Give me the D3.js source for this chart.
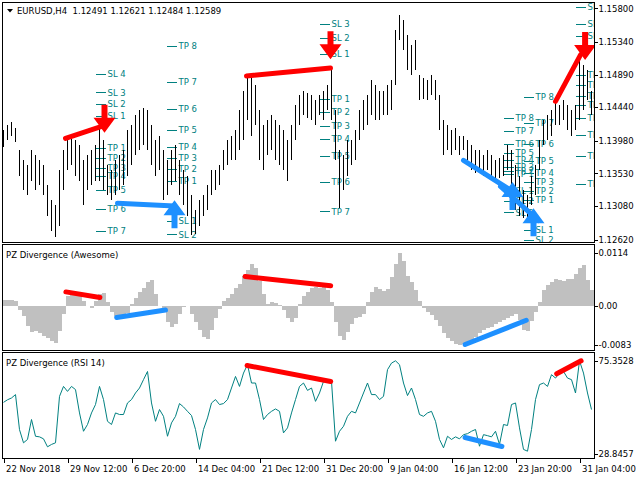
<!DOCTYPE html>
<html>
<head>
<meta charset="utf-8">
<script src="https://cdn.jsdelivr.net/npm/d3@7"></script>
<style>
  body { margin: 0; background: #fff; }
  text { font-family: 'DejaVu Sans', sans-serif; font-size: 8.5px; }
</style>
</head>
<body>
<svg id="chart"></svg>
<script>
// values (one entry per drawn bar)
const symbolTitle = 'EURUSD,H4';
const lastQuote = ['1.12491', '1.12621', '1.12484', '1.12589'];
const aoTitle = 'PZ Divergence (Awesome)';
const rsiTitle = 'PZ Divergence (RSI 14)';

const timeLabels = ['22 Nov 2018', '29 Nov 12:00', '6 Dec 20:00', '14 Dec 04:00', '21 Dec 12:00',
  '31 Dec 20:00', '9 Jan 04:00', '16 Jan 12:00', '23 Jan 20:00', '31 Jan 04:00'];
const timeTickBars = [0, 16, 32, 48, 64, 80, 96, 112, 128, 144];

const priceTicks = [1.15800, 1.15340, 1.14890, 1.14440, 1.13980, 1.13530, 1.13080, 1.12620];
const aoTicks = [0.0114, 0, -0.0083];
const rsiTicks = [75.3528, 28.8457];

const barHigh = [
  1.1412, 1.1419, 1.1423, 1.1415, 1.1385, 1.1371, 1.1364, 1.1385, 1.1378, 1.1371,
  1.1364, 1.1337, 1.1316, 1.1309, 1.1357, 1.1385, 1.1401, 1.1405, 1.1399, 1.1392,
  1.1371, 1.1378, 1.1385, 1.1392, 1.1419, 1.1399, 1.1364, 1.1357, 1.1371, 1.1378,
  1.1385, 1.1412, 1.1419, 1.1433, 1.1440, 1.1443, 1.1440, 1.1419, 1.1399, 1.1405,
  1.1385, 1.1371, 1.1385, 1.1392, 1.1371, 1.1357, 1.1350, 1.1323, 1.1302, 1.1316,
  1.1323, 1.1337, 1.1357, 1.1357, 1.1364, 1.1385, 1.1399, 1.1405, 1.1412, 1.1440,
  1.1467, 1.1488, 1.1484, 1.1474, 1.1440, 1.1419, 1.1426, 1.1433, 1.1426, 1.1419,
  1.1412, 1.1399, 1.1419, 1.1447, 1.1461, 1.1467, 1.1464, 1.1461, 1.1454, 1.1461,
  1.1467, 1.1474, 1.1498, 1.1440, 1.1385, 1.1378, 1.1399, 1.1399, 1.1412, 1.1440,
  1.1454, 1.1461, 1.1481, 1.1474, 1.1467, 1.1467, 1.1474, 1.1481, 1.1550, 1.1571,
  1.1564, 1.1543, 1.1530, 1.1536, 1.1488, 1.1484, 1.1481, 1.1488, 1.1481, 1.1461,
  1.1426, 1.1419, 1.1412, 1.1415, 1.1405, 1.1405, 1.1399, 1.1392, 1.1385, 1.1385,
  1.1378, 1.1385, 1.1378, 1.1371, 1.1374, 1.1378, 1.1392, 1.1385, 1.1364, 1.1350,
  1.1330, 1.1323, 1.1350, 1.1364, 1.1399, 1.1426, 1.1433, 1.1440, 1.1454, 1.1447,
  1.1454, 1.1447, 1.1440, 1.1447, 1.1512, 1.1502, 1.1495, 1.1467
];
const barLow = [
  1.1389, 1.1399, 1.1405, 1.1396, 1.1350, 1.1330, 1.1323, 1.1343, 1.1330, 1.1337,
  1.1323, 1.1295, 1.1274, 1.1265, 1.1281, 1.1330, 1.1357, 1.1364, 1.1350, 1.1343,
  1.1309, 1.1330, 1.1337, 1.1343, 1.1343, 1.1330, 1.1323, 1.1316, 1.1323, 1.1330,
  1.1337, 1.1350, 1.1364, 1.1378, 1.1385, 1.1392, 1.1385, 1.1364, 1.1350, 1.1357,
  1.1316, 1.1323, 1.1337, 1.1343, 1.1323, 1.1309, 1.1295, 1.1268, 1.1270, 1.1281,
  1.1295, 1.1302, 1.1323, 1.1330, 1.1337, 1.1357, 1.1364, 1.1371, 1.1371, 1.1385,
  1.1399, 1.1426, 1.1405, 1.1419, 1.1371, 1.1357, 1.1378, 1.1385, 1.1371, 1.1364,
  1.1357, 1.1343, 1.1371, 1.1399, 1.1419, 1.1433, 1.1429, 1.1426, 1.1419, 1.1433,
  1.1426, 1.1440, 1.1426, 1.1371, 1.1306, 1.1330, 1.1350, 1.1364, 1.1371, 1.1399,
  1.1412, 1.1419, 1.1433, 1.1426, 1.1426, 1.1433, 1.1433, 1.1440, 1.1474, 1.1536,
  1.1523, 1.1495, 1.1488, 1.1495, 1.1454, 1.1456, 1.1454, 1.1461, 1.1454, 1.1412,
  1.1378, 1.1385, 1.1378, 1.1385, 1.1378, 1.1385, 1.1371, 1.1357, 1.1354, 1.1357,
  1.1350, 1.1357, 1.1350, 1.1343, 1.1346, 1.1350, 1.1357, 1.1337, 1.1302, 1.1295,
  1.1291, 1.1288, 1.1309, 1.1323, 1.1357, 1.1392, 1.1399, 1.1405, 1.1419, 1.1419,
  1.1426, 1.1412, 1.1405, 1.1412, 1.1426, 1.1440, 1.1454, 1.1433
];

const aoValues = [
  0.0013, 0.0013, 0.0013, 0.0011, -0.0009, -0.0022, -0.0043, -0.0056, -0.0054, -0.0058,
  -0.0065, -0.0069, -0.0076, -0.0080, -0.0054, -0.0017, 0.0022, 0.0028, 0.0030, 0.0026,
  0.0011, 0.0000, -0.0004, 0.0011, 0.0026, 0.0028, 0.0009, -0.0013, -0.0022, -0.0024,
  -0.0022, -0.0015, 0.0004, 0.0017, 0.0030, 0.0039, 0.0052, 0.0056, 0.0026, 0.0000,
  -0.0013, -0.0035, -0.0045, -0.0039, -0.0017, -0.0002, 0.0000, -0.0017, -0.0035, -0.0052,
  -0.0067, -0.0071, -0.0052, -0.0026, -0.0006, 0.0011, 0.0017, 0.0026, 0.0039, 0.0048,
  0.0065, 0.0078, 0.0091, 0.0082, 0.0054, 0.0026, 0.0004, 0.0009, 0.0006, 0.0002,
  -0.0009, -0.0026, -0.0035, -0.0026, 0.0004, 0.0022, 0.0030, 0.0039, 0.0041, 0.0039,
  0.0041, 0.0035, 0.0009, -0.0035, -0.0065, -0.0074, -0.0056, -0.0039, -0.0026, -0.0024,
  -0.0017, 0.0009, 0.0030, 0.0041, 0.0037, 0.0032, 0.0037, 0.0061, 0.0091, 0.0114,
  0.0097, 0.0065, 0.0052, 0.0035, 0.0011, -0.0004, -0.0013, -0.0019, -0.0030, -0.0043,
  -0.0058, -0.0069, -0.0076, -0.0081, -0.0083, -0.0082, -0.0078, -0.0074, -0.0067, -0.0058,
  -0.0052, -0.0048, -0.0045, -0.0039, -0.0035, -0.0030, -0.0026, -0.0022, -0.0017, -0.0030,
  -0.0052, -0.0054, -0.0032, -0.0013, 0.0009, 0.0035, 0.0045, 0.0052, 0.0058, 0.0056,
  0.0054, 0.0058, 0.0058, 0.0069, 0.0082, 0.0087, 0.0056, 0.0035
];

const rsiValues = [
  54.5, 55.8, 56.7, 58.4, 40.8, 34.2, 35.9, 45.9, 37.5, 37.2,
  36.2, 32.2, 33.4, 34.2, 57.5, 62.5, 60.0, 62.5, 60.9, 49.2,
  40.0, 43.4, 49.2, 53.4, 62.5, 55.9, 45.0, 43.4, 49.2, 48.4,
  48.4, 54.2, 55.9, 59.2, 61.7, 65.9, 70.0, 54.2, 45.0, 50.9,
  47.5, 37.5, 44.2, 47.5, 53.9, 52.2, 50.0, 47.9, 40.9, 30.9,
  40.9, 46.7, 54.2, 55.9, 53.4, 53.9, 55.9, 61.7, 67.5, 62.5,
  69.2, 73.4, 64.2, 64.2, 55.9, 45.9, 48.4, 50.0, 51.2, 50.0,
  39.2, 41.7, 49.2, 55.9, 62.5, 64.2, 60.5, 61.7, 55.0, 59.2,
  65.0, 64.5, 65.0, 35.0, 40.0, 42.5, 47.5, 50.0, 49.2, 54.2,
  59.2, 64.2, 58.4, 58.4, 55.9, 57.5, 70.9, 74.2, 75.35, 73.4,
  64.2, 57.9, 61.7, 55.9, 48.4, 47.5, 49.2, 50.0, 45.0, 35.9,
  31.7, 37.5, 35.9, 37.2, 36.2, 38.3, 38.8, 40.0, 40.9, 32.5,
  38.3, 37.8, 37.2, 40.0, 33.4, 43.4, 42.9, 53.4, 54.2, 41.7,
  30.9, 30.0, 40.9, 55.9, 63.4, 64.2, 62.5, 68.4, 66.7, 69.2,
  70.0, 66.7, 65.9, 59.2, 75.35, 69.2, 59.2, 50.9
];

// divergence segments: [bar, value] at each end
const priceDivergences = [
  {kind: 'bear', from: [15.5, 1.1401], to: [24.75, 1.1418]},
  {kind: 'bull', from: [28.5, 1.1312], to: [42.75, 1.1308]},
  {kind: 'bear', from: [60.75, 1.1487], to: [81.75, 1.1498]},
  {kind: 'bull', from: [115, 1.1371], to: [126.75, 1.1330]},
  {kind: 'bull', from: [124.25, 1.1335], to: [133.75, 1.1288]},
  {kind: 'bear', from: [138, 1.1452], to: [144.25, 1.1516]}
];
const aoDivergences = [
  {kind: 'bear', from: [15.6, 0.0030], to: [24.1, 0.0018]},
  {kind: 'bull', from: [28.3, -0.0025], to: [40.5, -0.0009]},
  {kind: 'bear', from: [60.4, 0.0063], to: [81.8, 0.0043]},
  {kind: 'bull', from: [115.4, -0.0083], to: [130.7, -0.0031]}
];
const rsiDivergences = [
  {kind: 'bear', from: [60.9, 73.0], to: [81.8, 65.0]},
  {kind: 'bull', from: [115.4, 36.85], to: [124.6, 32.35]},
  {kind: 'bear', from: [138.3, 68.85], to: [144.4, 75.35]}
];

const signals = [
  {kind: 'sell', bar: 25.25, price: 1.1409},
  {kind: 'buy', bar: 42.75, price: 1.1316},
  {kind: 'sell', bar: 81.75, price: 1.1510},
  {kind: 'buy', bar: 127.25, price: 1.1341},
  {kind: 'buy', bar: 132.5, price: 1.1305},
  {kind: 'sell', bar: 145.4, price: 1.1509}
];

// take-profit / stop-loss levels drawn next to each signal
const levelGroups = [
  {bar: 23, names: ['SL 4', 'SL 3', 'SL 2', 'SL 1', 'TP 1', 'TP 2', 'TP 3', 'TP 4', 'TP 5', 'TP 6', 'TP 7'],
    prices: [1.14895, 1.14643, 1.14491, 1.14320, 1.13884, 1.13746, 1.13609, 1.13489, 1.13296, 1.13034, 1.12734]},
  {bar: 40.75, names: ['TP 8', 'TP 7', 'TP 6', 'TP 5', 'TP 4', 'TP 3', 'TP 2', 'TP 1', 'SL 1', 'SL 2'],
    prices: [1.15281, 1.14789, 1.14422, 1.14132, 1.13893, 1.13746, 1.13595, 1.13420, 1.12878, 1.12689]},
  {bar: 79, names: ['SL 3', 'SL 2', 'SL 1', 'TP 1', 'TP 2', 'TP 3', 'TP 4', 'TP 5', 'TP 6', 'TP 7'],
    prices: [1.15580, 1.15387, 1.15171, 1.14560, 1.14375, 1.14188, 1.14008, 1.13764, 1.13410, 1.13006]},
  {bar: 125, names: ['TP 8', 'TP 7', 'TP 6', 'TP 5', 'TP 4', 'TP 3', 'TP 2', 'TP 1', 'SL 1', 'SL 2', 'SL 3'],
    prices: [1.14298, 1.14109, 1.13939, 1.13810, 1.13719, 1.13617, 1.13564, 1.13516, 1.13282, 1.13144, 1.12992]},
  {bar: 130, names: ['TP 8', 'TP 7', 'TP 6', 'TP 5', 'TP 4', 'TP 3', 'TP 2', 'TP 1', 'SL 1', 'SL 2'],
    prices: [1.14582, 1.14223, 1.13939, 1.13700, 1.13540, 1.13410, 1.13286, 1.13167, 1.12754, 1.12616]},
  {bar: 143, names: ['SL 3', 'SL 2', 'SL 1', 'TP 1', 'TP 2', 'TP 3', 'TP 4', 'TP 5', 'TP 6', 'TP 7', 'TP 8'],
    prices: [1.15815, 1.15580, 1.15423, 1.14881, 1.14743, 1.14596, 1.14477, 1.14298, 1.14064, 1.13764, 1.13388]}
];

// ---- layout ----
const width = 640, height = 480;
const plotLeft = 2.5, plotRight = 594.5;
const panels = {
  main: {top: 2.5, bottom: 242.5},
  ao: {top: 244.5, bottom: 350.5},
  rsi: {top: 352.5, bottom: 458.5}
};
const divColor = {bear: '#ff0000', bull: '#1e90ff'};
const levelColor = '#008080';

const svg = d3.select('#chart')
  .attr('width', width)
  .attr('height', height);

svg.append('rect')
  .attr('width', width)
  .attr('height', height)
  .attr('fill', '#fff');

// scales
const xScale = d3.scaleLinear()
  .domain([0, barHigh.length - 1])
  .range([3.5, 591.5]);
const yMain = d3.scaleLinear()
  .domain(d3.extent(priceTicks))
  .range([239.5, 8.4]);
const yAO = d3.scaleLinear()
  .domain(d3.extent(aoTicks))
  .range([344.5, 252.8]);
const yRSI = d3.scaleLinear()
  .domain(d3.extent(rsiTicks))
  .range([453.5, 360.8]);

// clip each panel to its frame
const defs = svg.append('defs');
Object.entries(panels).forEach(([key, p]) => {
  defs.append('clipPath')
    .attr('id', `clip-${key}`)
    .append('rect')
    .attr('x', plotLeft)
    .attr('y', p.top)
    .attr('width', plotRight - plotLeft)
    .attr('height', p.bottom - p.top);
});

// ---- main price panel ----
const gMain = svg.append('g').attr('clip-path', 'url(#clip-main)');

const levelRows = levelGroups.flatMap(g => g.names.map((name, k) => ({bar: g.bar, name, price: g.prices[k]})));

gMain.selectAll('.level-dash')
  .data(levelRows)
  .join('line')
  .attr('class', 'level-dash')
  .attr('x1', d => xScale(d.bar))
  .attr('x2', d => xScale(d.bar) + 10)
  .attr('y1', d => Math.round(yMain(d.price)) + 0.5)
  .attr('y2', d => Math.round(yMain(d.price)) + 0.5)
  .attr('stroke', levelColor)
  .attr('shape-rendering', 'crispEdges');

gMain.selectAll('.level-label')
  .data(levelRows)
  .join('text')
  .attr('class', 'level-label')
  .attr('x', d => xScale(d.bar) + 12)
  .attr('y', d => yMain(d.price))
  .attr('dy', '0.36em')
  .attr('fill', levelColor)
  .text(d => d.name);

gMain.selectAll('.bar')
  .data(barHigh)
  .join('line')
  .attr('class', 'bar')
  .attr('x1', (d, i) => xScale(i))
  .attr('x2', (d, i) => xScale(i))
  .attr('y1', d => yMain(d))
  .attr('y2', (d, i) => yMain(barLow[i]))
  .attr('stroke', '#000')
  .attr('shape-rendering', 'crispEdges');

function drawDivergences(g, data, yScale) {
  g.selectAll('.div-line')
    .data(data)
    .join('line')
    .attr('class', 'div-line')
    .attr('x1', d => xScale(d.from[0]))
    .attr('y1', d => yScale(d.from[1]))
    .attr('x2', d => xScale(d.to[0]))
    .attr('y2', d => yScale(d.to[1]))
    .attr('stroke', d => divColor[d.kind])
    .attr('stroke-width', 5)
    .attr('stroke-linecap', 'round');
}
drawDivergences(gMain, priceDivergences, yMain);

// thick signal arrows, tip sits on the signal price
function arrowPath(cx, ty, kind) {
  const s = kind === 'sell' ? -1 : 1;
  const hw = 11, sw = 3, hh = 15, len = 28;
  return `M${cx},${ty} L${cx - hw},${ty + s * hh} L${cx - sw},${ty + s * hh} L${cx - sw},${ty + s * len}` +
    ` L${cx + sw},${ty + s * len} L${cx + sw},${ty + s * hh} L${cx + hw},${ty + s * hh} Z`;
}
gMain.selectAll('.signal')
  .data(signals)
  .join('path')
  .attr('class', 'signal')
  .attr('d', d => arrowPath(xScale(d.bar), yMain(d.price), d.kind))
  .attr('fill', d => d.kind === 'sell' ? divColor.bear : divColor.bull);

// ---- Awesome oscillator panel ----
const gAO = svg.append('g').attr('clip-path', 'url(#clip-ao)');
gAO.selectAll('.ao-bar')
  .data(aoValues)
  .join('rect')
  .attr('class', 'ao-bar')
  .attr('x', (d, i) => xScale(i) - 2)
  .attr('width', 4)
  .attr('y', d => yAO(Math.max(0, d)))
  .attr('height', d => Math.abs(yAO(d) - yAO(0)))
  .attr('fill', '#c0c0c0')
  .attr('shape-rendering', 'crispEdges');
drawDivergences(gAO, aoDivergences, yAO);

// ---- RSI panel ----
const gRSI = svg.append('g').attr('clip-path', 'url(#clip-rsi)');
gRSI.append('path')
  .datum(rsiValues)
  .attr('d', d3.line().x((d, i) => xScale(i)).y(d => yRSI(d)))
  .attr('fill', 'none')
  .attr('stroke', '#008080')
  .attr('stroke-width', 1);
drawDivergences(gRSI, rsiDivergences, yRSI);

// panel frames
Object.values(panels).forEach(p => {
  svg.append('rect')
    .attr('x', plotLeft)
    .attr('y', p.top)
    .attr('width', plotRight - plotLeft)
    .attr('height', p.bottom - p.top)
    .attr('fill', 'none')
    .attr('stroke', '#000')
    .attr('shape-rendering', 'crispEdges');
});

// right hand value axes
const hyphen = s => s.replace('\u2212', '-');
function rightAxis(scale, ticks, fmt) {
  svg.append('g')
    .attr('transform', `translate(${plotRight},0)`)
    .call(d3.axisRight(scale).tickValues(ticks).tickSize(3).tickPadding(1).tickFormat(fmt))
    .call(g => g.select('.domain').remove())
    .call(g => g.selectAll('line').attr('shape-rendering', 'crispEdges'));
}
rightAxis(yMain, priceTicks, d => d3.format('.5f')(d));
rightAxis(yAO, aoTicks, d => d === 0 ? '0.00' : hyphen(d3.format('.4f')(d)));
rightAxis(yRSI, rsiTicks, d => d3.format('.4f')(d));

// time axis
svg.append('g')
  .attr('transform', `translate(0,${panels.rsi.bottom})`)
  .call(d3.axisBottom(xScale).tickValues(timeTickBars).tickSize(4).tickPadding(3)
    .tickFormat((d, k) => timeLabels[k]))
  .call(g => g.select('.domain').remove())
  .call(g => g.selectAll('line').attr('shape-rendering', 'crispEdges'))
  .call(g => g.selectAll('text').attr('text-anchor', 'start').attr('x', 2));

// titles
svg.append('path')
  .attr('d', 'M7,9 L13,9 L10,12.5 Z')
  .attr('fill', '#000');
svg.append('text')
  .attr('x', 17)
  .attr('y', 14)
  .style('white-space', 'pre')
  .text(symbolTitle + '  ' + lastQuote.join(' '));
svg.append('text')
  .attr('x', 6)
  .attr('y', 258)
  .text(aoTitle);
svg.append('text')
  .attr('x', 6)
  .attr('y', 366)
  .text(rsiTitle);
</script>
</body>
</html>
